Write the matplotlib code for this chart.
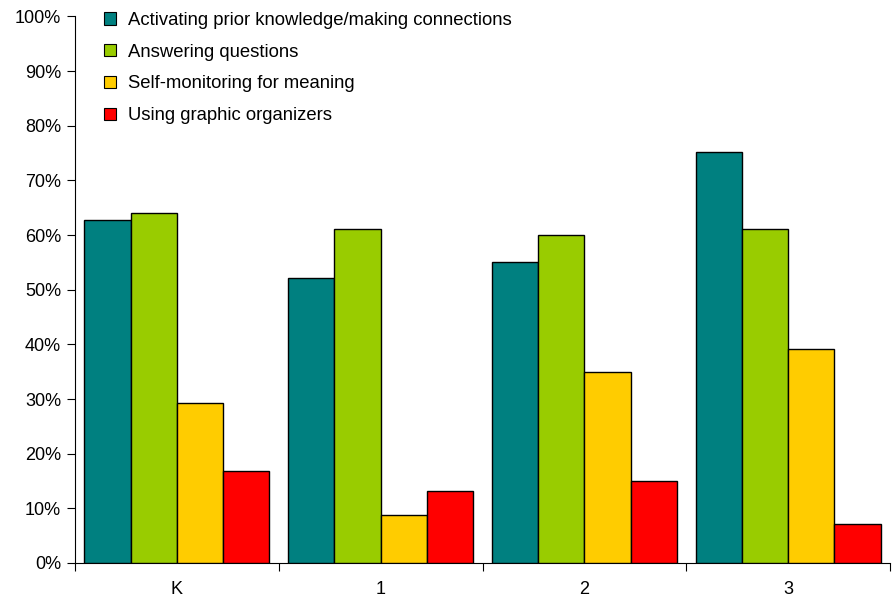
import numpy as np
import matplotlib.pyplot as plt
from matplotlib.ticker import PercentFormatter

plt.rcParams['font.family'] = ['Liberation Sans', 'DejaVu Sans']

# 数据
grades = ['K', '1', '2', '3']
series_names = ['Activating prior knowledge/making connections',
                'Answering questions',
                'Self-monitoring for meaning',
                'Using graphic organizers']
activating = [62.7, 52.2, 55.0, 75.2]
answering = [64.0, 61.1, 60.0, 61.1]
self_monitoring = [29.2, 8.7, 35.0, 39.2]
graphic_org = [16.8, 13.2, 15.0, 7.1]
colors = ['#008080', '#99CC00', '#FFCC00', '#FF0000']

values = [activating, answering, self_monitoring, graphic_org]

fig = plt.figure(figsize=(8.92, 6), dpi=100)
ax = fig.add_axes([0.0841, 0.0617, 0.9137, 0.911])

x = np.arange(len(grades))
w = 0.227
for i, (vals, name, c) in enumerate(zip(values, series_names, colors)):
    ax.bar(x + (i - 1.5) * w, vals, width=w, color=c, edgecolor='black',
           linewidth=1.0, label=name, zorder=3)

ax.set_xlim(-0.5, len(grades) - 0.5)
ax.set_ylim(0, 100)
ax.set_yticks(np.arange(0, 101, 10))
ax.yaxis.set_major_formatter(PercentFormatter(decimals=0))

# x轴: 组间分隔刻度
ax.set_xticks(np.arange(-0.5, len(grades)), minor=False)
ax.set_xticklabels([])
ax.set_xticks(x, minor=True)
ax.set_xticklabels(grades, minor=True)
ax.tick_params(axis='x', which='major', length=6, direction='out', width=0.8)
ax.tick_params(axis='x', which='minor', length=0, pad=13, labelsize=13)
ax.tick_params(axis='y', length=6, direction='out', width=0.8, labelsize=13, pad=4)

for s in ['top', 'right']:
    ax.spines[s].set_visible(False)
ax.spines['left'].set_linewidth(0.8)
ax.spines['bottom'].set_linewidth(0.8)

leg = ax.legend(loc='upper left', bbox_to_anchor=(0.098, 1.0 + 0.008),
                bbox_transform=fig.transFigure, frameon=False, fontsize=13.3,
                handlelength=0.65, handleheight=0.65, handletextpad=0.65,
                labelspacing=0.8)
for h in leg.legend_handles:
    h.set_linewidth(0.8)

fig.savefig('out.png', dpi=100)
